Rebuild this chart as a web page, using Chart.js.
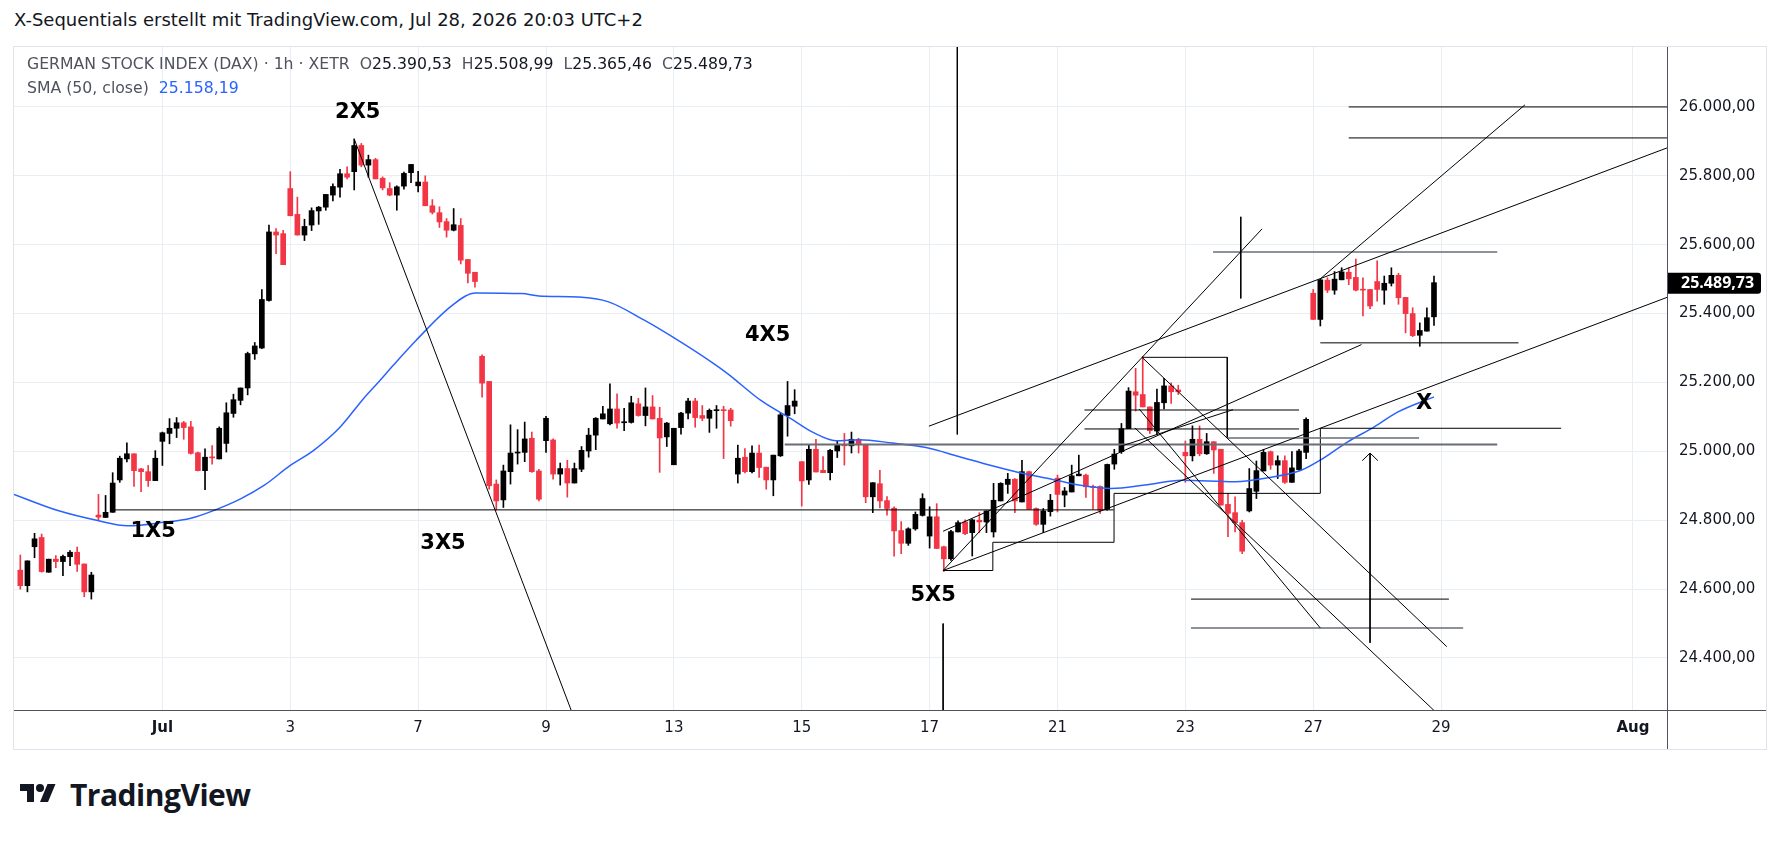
<!DOCTYPE html>
<html>
<head>
<meta charset="utf-8">
<script src="https://cdn.jsdelivr.net/npm/chart.js@4.4.0/dist/chart.umd.min.js"></script>
<style>
  body { margin: 0; background: #fff; width: 1781px; height: 841px; overflow: hidden; font-family: "DejaVu Sans", sans-serif; color: #131722; }
  #title { position: absolute; left: 14px; top: 8px; font-size: 18px; line-height: 24px; white-space: nowrap; }
  #pane { position: absolute; left: 13px; top: 46px; width: 1752px; height: 702px; border: 1px solid #e0e3eb; }
  #chart { position: absolute; left: 0; top: 0; }
  .leg { position: absolute; left: 13px; font-size: 15.7px; line-height: 22px; white-space: nowrap; color: #131722; }
  .leg .g { color: #50535e; }
  #leg1 { top: 6px; }
  #leg2 { top: 30px; }
  #logo { position: absolute; left: 14px; top: 780px; height: 30px; white-space: nowrap; }
  #logo span { position: absolute; left: 56px; top: -3px; font-family: "Open Sans", sans-serif; font-size: 30px; font-weight: 700; line-height: 36px; letter-spacing: -0.5px; }
</style>
</head>
<body>
<div id="title">X-Sequentials erstellt mit TradingView.com, Jul 28, 2026 20:03 UTC+2</div>
<div id="pane">
  <canvas id="chart" width="1752" height="702"></canvas>
  <div class="leg" id="leg1"><span class="g">GERMAN STOCK INDEX (DAX) · 1h · XETR</span>&nbsp;&nbsp;<span class="g">O</span>25.390,53&nbsp;&nbsp;<span class="g">H</span>25.508,99&nbsp;&nbsp;<span class="g">L</span>25.365,46&nbsp;&nbsp;<span class="g">C</span>25.489,73</div>
  <div class="leg" id="leg2"><span class="g">SMA (50, close)</span>&nbsp;&nbsp;<span style="color:#2962ff">25.158,19</span></div>
</div>
<div id="logo">
  <svg width="48" height="28" viewBox="0 0 36 28"><path d="M14 22H7V11H0V4h14v18zM28 22h-8l7.5-18h8L28 22z" fill="#131722"/><circle cx="20" cy="8" r="4" fill="#131722"/></svg>
  <span>TradingView</span>
</div>
<script>
// hourly bars, index 0 = Jun 26 16:00; 9 bars per trading day
const opens = [
  24655, 24610,
  24723, 24750, 24649, 24687, 24680, 24694, 24707, 24673, 24592,
  24815, 24808, 24823, 24917, 24978, 24993, 24949, 24941, 24915,
  25029, 25052, 25067, 25083, 25071, 24996, 24944, 24984, 24978,
  25023, 25110, 25148, 25184, 25283, 25300, 25438, 25637, 25632,
  25763, 25688, 25628, 25657, 25698, 25709, 25744, 25767, 25806,
  25812, 25888, 25831, 25847, 25793, 25763, 25744, 25770, 25809,
  25771, 25782, 25713, 25693, 25667, 25642, 25656, 25557, 25520,
  25276, 25203, 24905, 24859, 24941, 24995, 24997, 25038, 24943,
  25031, 25033, 24934, 24950, 24908, 24948, 25001, 25047, 25094,
  25080, 25123, 25083, 25084, 25138, 25104, 25129, 25096, 25042,
  24961, 25069, 25111, 25146, 25104, 25096, 25118, 25121, 25120,
  24934, 24983, 24941, 24995, 24954, 24917, 24987, 25104, 25131,
  24970, 24917, 25006, 24945, 24938, 25001, 25019, 25016, 25035,
  25019, 24868, 24906, 24857, 24835, 24770, 24733, 24775, 24814,
  24754, 24810, 24723, 24688, 24766, 24795, 24764, 24800, 24795,
  24766, 24856, 24904, 24919, 24853, 24941, 24834, 24788, 24825,
  24922, 24873, 24882, 24929, 24931, 24898, 24898, 24832, 24963,
  24999, 25066, 25173, 25165, 25129, 25059, 25141, 25190, 25178,
  24997, 24987, 25035, 24993, 25028, 25006, 24846, 24822, 24793,
  24827, 24884, 24943, 24999, 24960, 24973, 24910, 24947, 24997,
  25459, 25383, 25497, 25468, 25498, 25520, 25505, 25470, 25470,
  25493, 25468, 25488, 25511, 25447, 25400, 25337, 25349, 25390.53
];
const highs = [
  24699, 24682,
  24762, 24760, 24687, 24697, 24699, 24712, 24722, 24673, 24649,
  24875, 24872, 24938, 24986, 25025, 24993, 24951, 24959, 25002,
  25056, 25095, 25098, 25087, 25087, 24998, 25007, 25017, 25071,
  25141, 25166, 25184, 25288, 25316, 25470, 25657, 25647, 25642,
  25812, 25738, 25674, 25707, 25711, 25746, 25777, 25819, 25826,
  25907, 25894, 25860, 25851, 25797, 25780, 25771, 25811, 25833,
  25813, 25800, 25731, 25710, 25676, 25705, 25676, 25557, 25520,
  25280, 25203, 24917, 24960, 25077, 25063, 25085, 25056, 24948,
  25102, 25036, 24966, 24974, 24966, 25014, 25067, 25098, 25131,
  25196, 25167, 25125, 25160, 25154, 25184, 25162, 25128, 25084,
  25067, 25113, 25154, 25154, 25133, 25123, 25133, 25131, 25125,
  25018, 25008, 25016, 25018, 24954, 24989, 25111, 25203, 25179,
  24970, 25019, 25035, 24985, 25006, 25031, 25052, 25056, 25038,
  25021, 24909, 24945, 24869, 24839, 24796, 24778, 24824, 24877,
  24839, 24848, 24725, 24771, 24798, 24801, 24803, 24822, 24827,
  24907, 24909, 24936, 24921, 24974, 24943, 24836, 24834, 24875,
  24931, 24895, 24960, 24989, 24934, 24902, 24900, 24963, 25006,
  25081, 25185, 25241, 25275, 25129, 25181, 25212, 25199, 25192,
  25030, 25074, 25074, 25052, 25028, 25006, 24878, 24868, 24800,
  24950, 24972, 25006, 25001, 24987, 24987, 24999, 25006, 25097,
  25470, 25500, 25504, 25522, 25533, 25533, 25558, 25504, 25470,
  25553, 25509, 25533, 25517, 25447, 25417, 25373, 25417, 25508.99
];
const lows = [
  24600, 24592,
  24691, 24649, 24649, 24662, 24639, 24668, 24651, 24578, 24571,
  24799, 24808, 24823, 24910, 24969, 24898, 24883, 24898, 24915,
  24959, 25022, 25040, 25035, 24992, 24943, 24889, 24963, 24978,
  24998, 25099, 25135, 25164, 25267, 25298, 25436, 25574, 25542,
  25684, 25628, 25612, 25641, 25659, 25700, 25727, 25738, 25791,
  25759, 25826, 25796, 25791, 25759, 25742, 25700, 25761, 25780,
  25753, 25713, 25689, 25650, 25622, 25640, 25544, 25489, 25477,
  25157, 24890, 24830, 24837, 24905, 24963, 24970, 24939, 24856,
  24997, 24919, 24902, 24867, 24908, 24941, 24983, 25005, 25094,
  25077, 25067, 25060, 25082, 25102, 25074, 25094, 24939, 25014,
  24961, 25050, 25094, 25070, 25089, 25055, 25067, 24979, 25073,
  24908, 24937, 24937, 24924, 24890, 24871, 24985, 25044, 25109,
  24841, 24904, 24940, 24938, 24917, 24982, 24960, 24995, 24995,
  24851, 24822, 24836, 24815, 24696, 24703, 24727, 24771, 24812,
  24719, 24718, 24651, 24683, 24766, 24758, 24696, 24764, 24764,
  24751, 24856, 24878, 24822, 24853, 24832, 24785, 24764, 24812,
  24824, 24839, 24882, 24929, 24866, 24832, 24820, 24829, 24948,
  24994, 25066, 25117, 25129, 25052, 25049, 25123, 25139, 25165,
  24910, 24972, 24987, 24991, 24936, 24844, 24752, 24766, 24703,
  24824, 24863, 24943, 24948, 24921, 24907, 24910, 24945, 24979,
  25383, 25364, 25461, 25456, 25498, 25484, 25466, 25393, 25414,
  25436, 25427, 25480, 25427, 25344, 25333, 25305, 25349, 25365.46
];
const closes = [
  24610, 24682,
  24746, 24651, 24687, 24680, 24695, 24707, 24672, 24592, 24641,
  24809, 24823, 24908, 24980, 24993, 24944, 24941, 24915, 24980,
  25054, 25067, 25083, 25069, 24994, 24944, 24983, 24981, 25067,
  25112, 25150, 25184, 25284, 25306, 25441, 25637, 25628, 25542,
  25684, 25628, 25653, 25699, 25709, 25746, 25769, 25806, 25796,
  25888, 25831, 25847, 25791, 25765, 25744, 25768, 25807, 25833,
  25782, 25713, 25694, 25666, 25642, 25658, 25555, 25517, 25493,
  25198, 24900, 24856, 24943, 24995, 24998, 25036, 24941, 24861,
  25096, 24934, 24950, 24908, 24950, 25003, 25047, 25096, 25109,
  25123, 25082, 25086, 25141, 25104, 25129, 25094, 25039, 25082,
  25067, 25111, 25146, 25098, 25096, 25119, 25121, 25118, 25089,
  24980, 24941, 24995, 24953, 24917, 24989, 25106, 25133, 25146,
  24914, 25006, 24940, 24938, 25003, 25019, 25016, 25035, 25019,
  24868, 24909, 24856, 24834, 24769, 24733, 24775, 24817, 24863,
  24810, 24718, 24688, 24767, 24793, 24761, 24801, 24795, 24827,
  24858, 24907, 24919, 24856, 24941, 24832, 24788, 24827, 24858,
  24875, 24885, 24929, 24934, 24897, 24895, 24829, 24962, 24992,
  25066, 25175, 25163, 25129, 25060, 25142, 25190, 25173, 25173,
  24987, 25035, 24993, 25028, 25004, 24844, 24820, 24793, 24710,
  24892, 24944, 24997, 24960, 24973, 24910, 24952, 25001, 25093,
  25383, 25498, 25468, 25500, 25521, 25501, 25468, 25468, 25422,
  25470, 25488, 25511, 25446, 25400, 25336, 25351, 25388, 25489.73
];

// SMA(50) at points along the curve
const smaIdx = [-0.9, 5.3, 10.9, 15.1, 20.2, 24, 27.2, 31, 34.3, 38, 41.3, 45, 48.3, 50.5, 52.5, 55.7, 60.8, 64.1, 70.6, 73, 78.6, 82.8, 87.9, 92.6, 97.3, 99.6, 104.3, 108.7, 111.6, 114.8, 118.1, 122.8, 127.5, 132.1, 136.8, 141.5, 145.2, 149, 153.6, 158.3, 163.5, 171, 175.6, 180.3, 183.1, 186.8, 190.6, 193.8, 199];
const smaVal = [24875, 24828, 24799, 24784, 24794, 24806, 24828, 24862, 24901, 24959, 25003, 25070, 25153, 25203, 25250, 25322, 25424, 25460, 25458, 25451, 25448, 25434, 25380, 25322, 25259, 25225, 25147, 25092, 25055, 25031, 25034, 25024, 25011, 24985, 24958, 24934, 24919, 24902, 24892, 24902, 24916, 24912, 24923, 24945, 24976, 25027, 25071, 25113, 25158.19];

// time axis
const tickIdx = [20, 38, 56, 74, 92, 110, 128, 146, 164, 182, 200, 227];
const tickLabels = ['Jul', '3', '7', '9', '13', '15', '17', '21', '23', '27', '29', 'Aug'];
const priceTicks = [24400, 24600, 24800, 25000, 25200, 25400, 25600, 25800, 26000];
const lastPrice = 25489.73;

// drawings: [bar index, price, bar index, price]
const blackSegs = [
  [13, 24830, 153.9, 24830],
  [47, 25907, 80, 24115],
  [131.9, 26300, 131.9, 25049],
  [129.9, 24500, 129.9, 24100],
  [127.9, 25073, 231.8, 25881],
  [129.9, 24654, 174.8, 25646],
  [129.9, 24654, 231.8, 25447],
  [129.9, 24768, 188.8, 25310],
  [154.8, 25014, 170.7, 25121],
  [171.8, 25681, 171.8, 25444],
  [187, 26000, 231.8, 26000],
  [187, 25910, 231.8, 25910],
  [183, 25501, 211.8, 26006],
  [157.9, 25273, 200.8, 24433],
  [156.9, 25068, 199.5, 24238],
  [157.5, 25123, 183, 24487],
  [164.8, 24571, 201.1, 24571],
  [190, 24995, 190, 24444],
  [183, 25315, 210.9, 25315],
  [149.8, 25120, 180, 25120],
  [149.8, 25065, 180, 25065]
];
const graySegs = [
  [167.9, 25579, 207.9, 25579],
  [164.8, 24487, 203.1, 24487],
  [169.9, 25039, 196.9, 25039],
  [107.6, 25020, 207.9, 25020]
];
const paths = [
  [[157.9, 25273], [169.9, 25273], [169.9, 25039]],
  [[129.9, 24654], [136.9, 24654], [136.9, 24736], [153.96, 24736], [153.96, 24878], [183, 24878], [183, 25067], [216.9, 25067]],
  [[188.9, 24973], [190, 24995], [191.1, 24973]]
];

const waveText = ['1X5', '2X5', '3X5', '4X5', '5X5', 'X'];
const waveIdx = [18.7, 47.5, 59.5, 105.2, 128.5, 197.6];
const wavePrice = [24768, 25985, 24732, 25335, 24580, 25140];

const RED = '#f23645', BLK = '#000000';
const candleColor = closes.map((c, i) => c >= opens[i] ? BLK : RED);

function lineSet(pts, color, width) {
  return {
    type: 'line',
    data: pts.map(p => ({ x: p[0], y: p[1] })),
    borderColor: color,
    borderWidth: width,
    pointRadius: 0,
    fill: false,
    tension: 0
  };
}

const datasets = [];
blackSegs.forEach(s => datasets.push(lineSet([[s[0], s[1]], [s[2], s[3]]], '#000', 1)));
graySegs.forEach((s, k) => datasets.push(lineSet([[s[0], s[1]], [s[2], s[3]]], '#6a6d78', k === 3 ? 2 : 1.5)));
paths.forEach(p => datasets.push(lineSet(p, '#000', 1)));
datasets.push({
  type: 'line',
  data: smaIdx.map((v, k) => ({ x: v, y: smaVal[k] })),
  borderColor: '#2962ff',
  borderWidth: 1.5,
  pointRadius: 0,
  cubicInterpolationMode: 'monotone',
  fill: false
});
datasets.push({
  type: 'bar',
  data: opens.map((o, i) => ({ x: i, y: [o, closes[i]] })),
  backgroundColor: candleColor,
  barThickness: 5,
  minBarLength: 1,
  grouped: false
});
datasets.push({
  type: 'bar',
  data: lows.map((l, i) => ({ x: i, y: [l, highs[i]] })),
  backgroundColor: candleColor,
  barThickness: 1,
  grouped: false
});

const fmt = v => v.toLocaleString('de-DE', { minimumFractionDigits: 2, maximumFractionDigits: 2 });

const overlay = {
  id: 'overlay',
  afterDatasetsDraw(chart) {
    const { ctx, chartArea: a, scales: { x, y } } = chart;
    ctx.save();
    ctx.beginPath();
    ctx.rect(a.left, a.top, a.right - a.left, a.bottom - a.top);
    ctx.clip();
    ctx.fillStyle = '#000';
    ctx.font = 'bold 21px "DejaVu Sans"';
    ctx.textAlign = 'center';
    ctx.textBaseline = 'middle';
    waveText.forEach((t, k) => ctx.fillText(t, x.getPixelForValue(waveIdx[k]), y.getPixelForValue(wavePrice[k])));
    ctx.restore();
  },
  afterDraw(chart) {
    const { ctx, chartArea: a, scales: { y } } = chart;
    ctx.save();
    ctx.strokeStyle = '#50535e';
    ctx.lineWidth = 1;
    ctx.beginPath();
    ctx.moveTo(a.right + 0.5, 0);
    ctx.lineTo(a.right + 0.5, chart.height);
    ctx.moveTo(0, a.bottom + 0.5);
    ctx.lineTo(chart.width, a.bottom + 0.5);
    ctx.stroke();
    const py = y.getPixelForValue(lastPrice);
    ctx.fillStyle = '#000';
    ctx.beginPath();
    ctx.roundRect(a.right + 1, py - 10, 93, 21, [0, 3, 3, 0]);
    ctx.fill();
    ctx.fillStyle = '#fff';
    ctx.font = 'bold 16px "Open Sans"';
    ctx.textAlign = 'left';
    ctx.textBaseline = 'middle';
    ctx.fillText(fmt(lastPrice), a.right + 14, py + 1);
    ctx.restore();
  }
};

new Chart(document.getElementById('chart'), {
  data: { datasets },
  options: {
    responsive: false,
    animation: false,
    events: [],
    layout: { padding: 0 },
    plugins: { legend: { display: false }, tooltip: { enabled: false } },
    scales: {
      x: {
        type: 'linear',
        offset: false,
        min: -0.89,
        max: 231.8,
        grid: { color: '#e9edf4', drawTicks: false, offset: false },
        border: { display: false },
        afterBuildTicks: ax => { ax.ticks = tickIdx.map(v => ({ value: v })); },
        afterFit: ax => { ax.height = 39; ax.paddingLeft = 0; ax.paddingRight = 0; },
        ticks: {
          autoSkip: false,
          maxRotation: 0,
          padding: 9,
          color: '#131722',
          font: c => ({ family: 'DejaVu Sans', size: 15, weight: (c.tick && isNaN(tickLabels[tickIdx.indexOf(c.tick.value)])) ? '600' : '400' }),
          callback: v => tickLabels[tickIdx.indexOf(v)]
        }
      },
      y: {
        type: 'linear',
        position: 'right',
        min: 24249,
        max: 26174,
        grid: { color: '#e9edf4', drawTicks: false },
        border: { display: false },
        afterBuildTicks: ax => { ax.ticks = priceTicks.map(v => ({ value: v })); },
        afterFit: ax => { ax.width = 99; ax.paddingTop = 0; ax.paddingBottom = 0; },
        ticks: {
          padding: 12,
          color: '#131722',
          font: { family: 'DejaVu Sans', size: 15 },
          callback: v => fmt(v)
        }
      }
    }
  },
  plugins: [overlay]
});
</script>
</body>
</html>
